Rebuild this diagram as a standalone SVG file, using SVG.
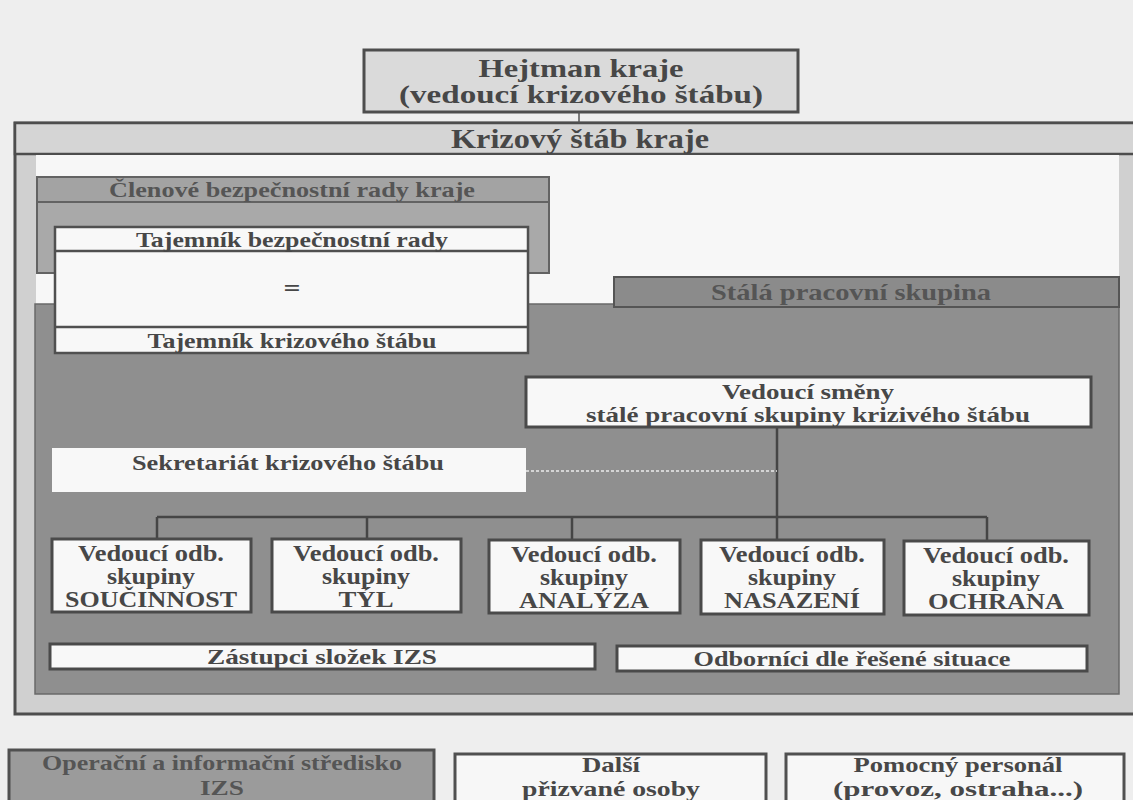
<svg xmlns="http://www.w3.org/2000/svg" width="1133" height="800" viewBox="0 0 1133 800">
<style>
text{font-family:"Liberation Serif","Times New Roman",serif;font-weight:bold;fill:#474747;text-anchor:middle}
.t27{font-size:27px}.t25{font-size:25px}.t22{font-size:22px}.t23{font-size:23px}.t21{font-size:21px}.t24{font-size:24px}
.wbox{fill:#f8f8f8;stroke:#4a4a4a;stroke-width:3}
.line{stroke:#454545;stroke-width:2.5;fill:none}
.grey{fill:#555}
</style>
<rect width="1133" height="800" fill="#eeeeee"/>

<g id="hejtman">
<rect x="364" y="50" width="434" height="62" fill="#dadada" stroke="#4d4d4d" stroke-width="3"/>
<text class="t25" x="581" y="77" textLength="205" lengthAdjust="spacingAndGlyphs">Hejtman kraje</text>
<text class="t25" x="581" y="103" textLength="364" lengthAdjust="spacingAndGlyphs">(vedoucí krizového štábu)</text>
</g>

<g id="krizovy-stab">
<rect x="15" y="123" width="1130" height="591" fill="#d0d0d0" stroke="#4d4d4d" stroke-width="3"/>
<rect x="15" y="123" width="1130" height="31" fill="#d5d5d5" stroke="#4d4d4d" stroke-width="2.5"/>
<text class="t27" x="580" y="148" textLength="258" lengthAdjust="spacingAndGlyphs">Krizový štáb kraje</text>
<rect x="36" y="155" width="1083" height="150" fill="#f7f7f7"/>
</g>

<g id="clenove">
<rect x="37" y="177" width="512" height="96" fill="#a9a9a9" stroke="#636363" stroke-width="2"/>
<rect x="37" y="177" width="512" height="25" fill="#a3a3a3" stroke="#636363" stroke-width="2"/>
<text class="t21 grey" x="292" y="197" textLength="366" lengthAdjust="spacingAndGlyphs">Členové bezpečnostní rady kraje</text>
</g>

<g id="stala-skupina">
<path d="M35 304 H614 V277 H1119 V694 H35 Z" fill="#8f8f8f" stroke="#6a6a6a" stroke-width="1.5"/>
<rect x="614" y="277" width="505" height="30" fill="#8b8b8b" stroke="#555" stroke-width="2"/>
<text class="t23 grey" x="851" y="300" textLength="280" lengthAdjust="spacingAndGlyphs">Stálá pracovní skupina</text>
</g>

<g id="tajemnik">
<rect x="55" y="227" width="473" height="126" fill="#f8f8f8" stroke="#505050" stroke-width="2.5"/>
<line x1="55" y1="251" x2="528" y2="251" stroke="#505050" stroke-width="2.5"/>
<line x1="55" y1="327" x2="528" y2="327" stroke="#505050" stroke-width="2.5"/>
<text class="t22" x="292" y="247" textLength="312" lengthAdjust="spacingAndGlyphs">Tajemník bezpečnostní rady</text>
<text class="t24" x="292" y="296" textLength="17" lengthAdjust="spacingAndGlyphs">=</text>
<text class="t22" x="292" y="348" textLength="289" lengthAdjust="spacingAndGlyphs">Tajemník krizového štábu</text>
</g>

<g id="connectors">
<line x1="579" y1="112" x2="579" y2="123" stroke="#555" stroke-width="1.5"/>
<line class="line" x1="777" y1="427" x2="777" y2="540"/>
<line class="line" x1="157" y1="517" x2="987" y2="517"/>
<line class="line" x1="157" y1="517" x2="157" y2="540"/>
<line class="line" x1="367" y1="517" x2="367" y2="540"/>
<line class="line" x1="572" y1="517" x2="572" y2="540"/>
<line class="line" x1="987" y1="517" x2="987" y2="540"/>
<line x1="526" y1="471" x2="777" y2="471" stroke="#ececec" stroke-width="1.5" stroke-dasharray="3 2"/>
</g>

<g id="vedouci-smeny">
<rect class="wbox" x="526" y="377" width="565" height="50"/>
<text class="t22" x="808" y="399" textLength="172" lengthAdjust="spacingAndGlyphs">Vedoucí směny</text>
<text class="t22" x="808" y="422" textLength="444" lengthAdjust="spacingAndGlyphs">stálé pracovní skupiny krizivého štábu</text>
</g>

<g id="sekretariat">
<rect x="52" y="448" width="474" height="44" fill="#f8f8f8"/>
<text class="t22" x="288" y="470" textLength="312" lengthAdjust="spacingAndGlyphs">Sekretariát krizového štábu</text>
</g>

<g id="soucinnost">
<rect class="wbox" x="52" y="539" width="199" height="73"/>
<text class="t23" x="151" y="561" textLength="146" lengthAdjust="spacingAndGlyphs">Vedoucí odb.</text>
<text class="t23" x="151" y="584" textLength="88" lengthAdjust="spacingAndGlyphs">skupiny</text>
<text class="t23" x="151" y="607" textLength="172" lengthAdjust="spacingAndGlyphs">SOUČINNOST</text>
</g>
<g id="tyl">
<rect class="wbox" x="272" y="539" width="189" height="73"/>
<text class="t23" x="366" y="561" textLength="146" lengthAdjust="spacingAndGlyphs">Vedoucí odb.</text>
<text class="t23" x="366" y="584" textLength="88" lengthAdjust="spacingAndGlyphs">skupiny</text>
<text class="t23" x="366" y="607" textLength="55" lengthAdjust="spacingAndGlyphs">TÝL</text>
</g>
<g id="analyza">
<rect class="wbox" x="489" y="540" width="191" height="73"/>
<text class="t23" x="584" y="562" textLength="146" lengthAdjust="spacingAndGlyphs">Vedoucí odb.</text>
<text class="t23" x="584" y="585" textLength="88" lengthAdjust="spacingAndGlyphs">skupiny</text>
<text class="t23" x="584" y="608" textLength="130" lengthAdjust="spacingAndGlyphs">ANALÝZA</text>
</g>
<g id="nasazeni">
<rect class="wbox" x="701" y="540" width="183" height="74"/>
<text class="t23" x="792" y="562" textLength="146" lengthAdjust="spacingAndGlyphs">Vedoucí odb.</text>
<text class="t23" x="792" y="585" textLength="88" lengthAdjust="spacingAndGlyphs">skupiny</text>
<text class="t23" x="792" y="608" textLength="136" lengthAdjust="spacingAndGlyphs">NASAZENÍ</text>
</g>
<g id="ochrana">
<rect class="wbox" x="904" y="541" width="185" height="74"/>
<text class="t23" x="996" y="563" textLength="146" lengthAdjust="spacingAndGlyphs">Vedoucí odb.</text>
<text class="t23" x="996" y="586" textLength="88" lengthAdjust="spacingAndGlyphs">skupiny</text>
<text class="t23" x="996" y="609" textLength="136" lengthAdjust="spacingAndGlyphs">OCHRANA</text>
</g>

<g id="zastupci">
<rect class="wbox" x="50" y="644" width="545" height="25"/>
<text class="t22" x="322" y="664" textLength="230" lengthAdjust="spacingAndGlyphs">Zástupci složek IZS</text>
</g>
<g id="odbornici">
<rect class="wbox" x="617" y="646" width="470" height="25"/>
<text class="t22" x="852" y="666" textLength="317" lengthAdjust="spacingAndGlyphs">Odborníci dle řešené situace</text>
</g>

<g id="operacni">
<rect x="9" y="750" width="425" height="60" fill="#9b9b9b" stroke="#505050" stroke-width="3"/>
<text class="t21 grey" x="222" y="770" textLength="360" lengthAdjust="spacingAndGlyphs">Operační a informační středisko</text>
<text class="t21 grey" x="222" y="795" textLength="44" lengthAdjust="spacingAndGlyphs">IZS</text>
</g>
<g id="dalsi">
<rect x="455" y="754" width="311" height="56" fill="#f7f7f7" stroke="#505050" stroke-width="3"/>
<text class="t21" x="611" y="772" textLength="58" lengthAdjust="spacingAndGlyphs">Další</text>
<text class="t21" x="611" y="796" textLength="178" lengthAdjust="spacingAndGlyphs">přizvané osoby</text>
</g>
<g id="pomocny">
<rect x="786" y="754" width="338" height="56" fill="#f7f7f7" stroke="#505050" stroke-width="3"/>
<text class="t21" x="958" y="772" textLength="209" lengthAdjust="spacingAndGlyphs">Pomocný personál</text>
<text class="t21" x="958" y="796" textLength="250" lengthAdjust="spacingAndGlyphs">(provoz, ostraha...)</text>
</g>
</svg>
